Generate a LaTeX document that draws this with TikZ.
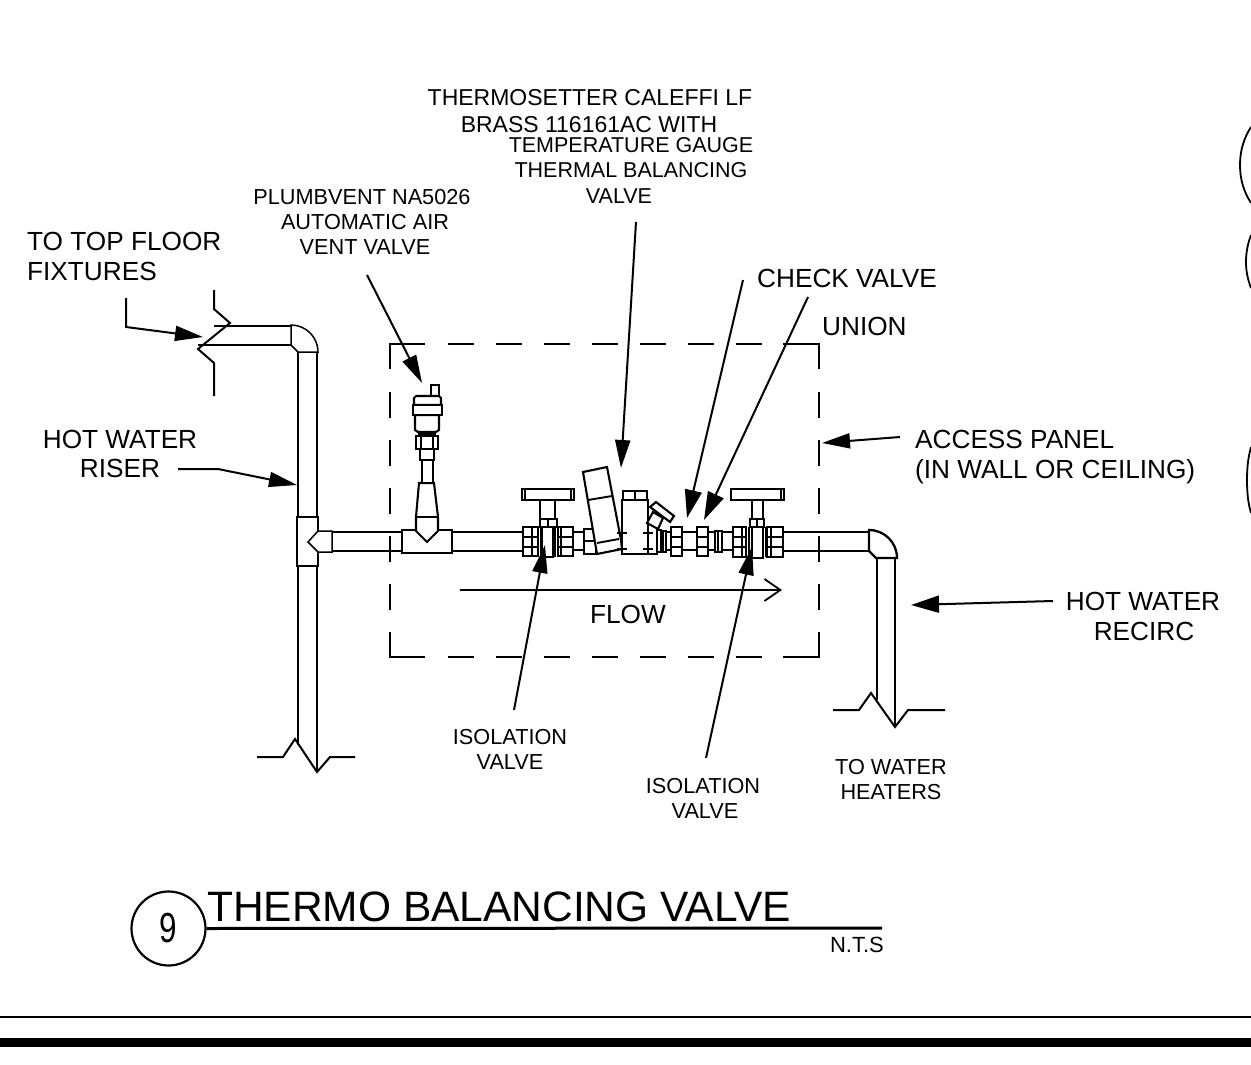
\documentclass[tikz,border=0pt]{standalone}
\usepackage{fontspec}
\setmainfont{Liberation Sans}
\usetikzlibrary{arrows.meta}
\tikzset{
  big/.style={font=\fontsize{26.2}{26.2}\selectfont,inner sep=0pt,anchor=base},
  midA/.style={font=\fontsize{23}{23}\selectfont,inner sep=0pt,anchor=base},
  mid/.style={font=\fontsize{21.5}{21.5}\selectfont,inner sep=0pt,anchor=base},
  small/.style={font=\fontsize{21.7}{21.7}\selectfont,inner sep=0pt,anchor=base},
  leader/.style={line width=2pt,-{Triangle[length=28pt,width=15pt]}},
  wideleader/.style={line width=2pt,-{Triangle[length=28pt,width=17pt]}},
  pipe/.style={line width=2.3pt},
  thinpipe/.style={line width=1.5pt},
  part/.style={line width=2.1pt,fill=white,line join=miter},
  brk/.style={line width=2pt},
  panel/.style={line width=2.1pt}
}
\begin{document}
\begin{tikzpicture}[x=1pt,y=-1pt]
\useasboundingbox (0,0) rectangle (1251,1065);
\fill[white] (0,0) rectangle (1251,1065);

% right edge circles
\draw[line width=1.8pt] (1251,127) .. controls (1244,138) and (1240,150) .. (1240,165) .. controls (1240,180) and (1244,192) .. (1251,203);
\draw[line width=1.8pt] (1251,235) .. controls (1248,243) and (1246,252) .. (1246,262) .. controls (1246,272) and (1248,280) .. (1251,288);
\draw[line width=1.8pt] (1251,447) .. controls (1248,458) and (1247,468) .. (1247,480) .. controls (1247,492) and (1248,503) .. (1251,513);

% access panel
\draw[panel] (425,344) -- (390,344) -- (390,369);
\draw[panel] (783,344) -- (819,344) -- (819,369);
\draw[panel] (425,657) -- (390,657) -- (390,632);
\draw[panel] (783,657) -- (819,657) -- (819,632);
\draw[panel,dash pattern=on 26pt off 22pt] (448,344) -- (762,344);
\draw[panel,dash pattern=on 26pt off 22pt] (448,657) -- (762,657);
\draw[panel,dash pattern=on 26pt off 22pt] (390,392) -- (390,610);
\draw[panel,dash pattern=on 26pt off 22pt] (819,392) -- (819,610);

% riser
\draw[thinpipe] (298,352) -- (298,517) (317,352) -- (317,517);
\draw[thinpipe] (298,566) -- (298,745) (317,566) -- (317,772);
\draw[thinpipe] (214,326) -- (291,326) (198,345) -- (291,345);
\draw[thinpipe] (291,325) arc[start angle=-90,end angle=0,radius=27] -- (298,352) -- (291,345) -- cycle;
\draw[brk] (214,290) -- (214,309) -- (230,323) -- (198,349) -- (214,363) -- (214,396);
\draw[brk] (257,757) -- (283,757) -- (295,739) -- (317,772) -- (330,757) -- (355,757);
% tee on riser
\draw[thinpipe] (297,517) rectangle (318,566);
\draw[thinpipe,fill=white] (318,531) -- (332,531) -- (332,552) -- (318,552) -- (308,542) -- cycle;

% horizontal line
\draw[pipe] (332,532) -- (402,532) (332,551) -- (402,551);
\draw[pipe] (452,532) -- (523,532) (452,551) -- (523,551);
\draw[pipe] (573,532) -- (584,532) (573,550) -- (584,550);
\draw[pipe] (657,532) -- (733,532) (657,550) -- (733,550);
\draw[pipe] (783,532) -- (869,532) (783,551) -- (869,551);

% right elbow and drop
\draw[pipe] (869,530) arc[start angle=-90,end angle=0,radius=28] -- (876,558) -- (869,551) -- cycle;
\draw[pipe] (877,558) -- (877,700) (895,558) -- (895,727);
\draw[brk] (833,710) -- (859,710) -- (871,693) -- (895,727) -- (908,710) -- (945,710);

% air vent
\draw[part] (402,530) rectangle (452,553);
\draw[part] (419,483) -- (434,483) -- (438,517) -- (438,531) -- (427,542) -- (416,531) -- (416,517) -- cycle;
\draw[part] (416,517) -- (438,517);
\draw[part] (422,460) rectangle (433,483);
\draw[part] (420,449) rectangle (434,460);
\draw[part] (416,436) rectangle (438,449);
\draw[part] (421,436) rectangle (433,449);
\draw[part] (431,385) rectangle (439,396);
\draw[part] (415,415) -- (415,430) -- (418,432) -- (436,432) -- (439,430) -- (439,415) -- cycle;
\draw[part] (414,405) -- (414,398) -- (416,396) -- (439,396) -- (441,398) -- (441,405) -- cycle;
\draw[part] (413,405) rectangle (442,415);
\draw[line width=1.4pt] (418,434) -- (436,434);

% isolation valve 1
\draw[part] (522,489) rectangle (574,500);
\draw[line width=1.4pt] (525,489) -- (525,500) (571,489) -- (571,500);
\draw[part] (540,500) rectangle (555,520);
\draw[part] (540,519) rectangle (548,527) (548,519) rectangle (557,527);
\draw[part] (523,527) rectangle (538,556);
\draw[line width=1.6pt] (523,537) -- (538,537) (523,547) -- (538,547) (532,527) -- (532,556);
\draw[part] (542,527) rectangle (553,557);
\draw[line width=2.4pt] (541,527) -- (541,557) (555,527) -- (555,557);
\draw[part] (558,527) rectangle (573,556);
\draw[line width=1.6pt] (558,537) -- (573,537) (558,547) -- (573,547) (561,527) -- (561,556);

% small nut, thermometer
\draw[part] (584,529) rectangle (596,554);
\draw[line width=1.6pt] (584,541) -- (596,541);
\draw[part] (583,472) -- (607,467) -- (621,540) -- (622,549) -- (597,554) -- cycle;
\draw[line width=1.9pt] (588,500) -- (612,496) (597,543) -- (619,539);

% balancing valve body
\draw[part] (622,500) rectangle (648,554);
\draw[part] (623,491) rectangle (647,500);
\draw[line width=1.9pt] (635,491) -- (635,500);
\draw[line width=1.9pt] (617,533) -- (627,533) (617,549) -- (627,549) (643,533) -- (653,533) (643,549) -- (653,549);
\draw[line width=1.9pt] (648,554) -- (657,554) -- (657,532);
% strainer
\draw[part] (647,523) -- (653,512) -- (663,518) -- (658,529) -- cycle;
\draw[part] (656,502) -- (674,516) -- (670,522) -- (650,507) -- cycle;
% right of body
\draw[part] (657,530) rectangle (661,552);
\draw[part] (663,531) rectangle (666,552);
\draw[part] (671,527) rectangle (682,556);
\draw[line width=1.6pt] (671,537) -- (682,537) (671,547) -- (682,547);
\draw[part] (697,527) rectangle (708,556);
\draw[line width=1.6pt] (697,537) -- (708,537) (697,547) -- (708,547);
\draw[part] (715,531) rectangle (722,552);
\draw[line width=1.4pt] (718,531) -- (718,552);

% isolation valve 2
\draw[part] (731,489) rectangle (784,500);
\draw[line width=1.4pt] (781,489) -- (781,500);
\draw[part] (752,500) rectangle (763,520);
\draw[part] (750,519) rectangle (757,527) (757,519) rectangle (764,527);
\draw[part] (733,527) rectangle (746,557);
\draw[line width=1.6pt] (733,537) -- (746,537) (733,547) -- (746,547) (742,527) -- (742,557);
\draw[part] (752,527) rectangle (763,558);
\draw[line width=2.4pt] (749,527) -- (749,557) (766,527) -- (766,557);
\draw[part] (767,527) rectangle (783,557);
\draw[line width=1.6pt] (767,537) -- (783,537) (767,547) -- (783,547) (771,527) -- (771,557);

% flow arrow
\coordinate (flowa) at (460,590);
\coordinate (flowb) at (782,590);
\draw[line width=1.8pt,-{Straight Barb[length=16pt,width=22pt,line width=1.8pt]}] (flowa) -- (flowb);
\node[big] (flow) at (628,623) {FLOW};

% labels
\node[midA] (t1) at (590,106) {THERMOSETTER CALEFFI LF};
\node[midA] (t2) at (589,132) {BRASS 116161AC WITH};
\node[mid] (t3) at (631,152) {TEMPERATURE GAUGE};
\node[mid] (t4) at (631,177) {THERMAL BALANCING};
\node[mid] (t5) at (619,203) {VALVE};
\node[small] (p1) at (362,204) {PLUMBVENT NA5026};
\node[small] (p2) at (365,229) {AUTOMATIC AIR};
\node[small] (p3) at (365,254) {VENT VALVE};
\node[big,anchor=base west] (f1) at (27,250) {TO TOP FLOOR};
\node[big,anchor=base west] (f2) at (27,280) {FIXTURES};
\node[big] (r1) at (120,448) {HOT WATER};
\node[big] (r2) at (120,477) {RISER};
\node[big,anchor=base west] (cv) at (757,287) {CHECK VALVE};
\node[big,anchor=base west] (un) at (822,335) {UNION};
\node[big,anchor=base west] (a1) at (915,448) {ACCESS PANEL};
\node[big,anchor=base west] (a2) at (915,478) {(IN WALL OR CEILING)};
\node[big] (h1) at (1143,610) {HOT WATER};
\node[big] (h2) at (1144,640) {RECIRC};
\node[small] (i1) at (510,744) {ISOLATION};
\node[small] (i2) at (510,769) {VALVE};
\node[small] (j1) at (703,793) {ISOLATION};
\node[small] (j2) at (705,818) {VALVE};
\node[small] (w1) at (891,774) {TO WATER};
\node[small] (w2) at (891,799) {HEATERS};

% leaders
\coordinate (la1) at (126,298); \coordinate (la2) at (126,327); \coordinate (la3) at (203,337);
\draw[leader] (la1) -- (la2) -- (la3);
\coordinate (lb1) at (178,469); \coordinate (lb2) at (218,469); \coordinate (lb3) at (297,485);
\draw[leader] (lb1) -- (lb2) -- (lb3);
\coordinate (lc1) at (367,275); \coordinate (lc2) at (422,383);
\draw[leader] (lc1) -- (lc2);
\coordinate (ld1) at (636,222); \coordinate (ld2) at (621,468);
\draw[leader] (ld1) -- (ld2);
\coordinate (le1) at (743,280); \coordinate (le2) at (687,518);
\draw[wideleader] (le1) -- (le2);
\coordinate (lf1) at (808,297); \coordinate (lf2) at (704,520);
\draw[wideleader] (lf1) -- (lf2);
\coordinate (lg1) at (900,437); \coordinate (lg2) at (822,443);
\draw[leader] (lg1) -- (lg2);
\coordinate (lh1) at (1053,601); \coordinate (lh2) at (911,605);
\draw[wideleader] (lh1) -- (lh2);
\coordinate (li1) at (514,710); \coordinate (li2) at (545,545);
\draw[leader] (li1) -- (li2);
\coordinate (lj1) at (706,758); \coordinate (lj2) at (752,547);
\draw[leader] (lj1) -- (lj2);

% title
\node[draw,circle,line width=2.2pt,minimum size=74pt,inner sep=0pt] (num) at (168.5,928.5) {\fontsize{42}{42}\selectfont\scalebox{0.75}[1]{9}};
\node[font=\fontsize{42.5}{42.5}\selectfont,inner sep=0pt,anchor=base west] (title) at (207,921) {THERMO BALANCING VALVE};
\coordinate (ue) at (882,928);
\draw[line width=3pt] (num.east) -- (ue);
\node[font=\fontsize{22}{22}\selectfont,inner sep=0pt,anchor=base east] (nts) at (884,952) {N.T.S};
% bottom rules
\draw[line width=1.8pt] (0,1017) -- (1251,1017);
\fill (0,1038) rectangle (1251,1047);
\end{tikzpicture}
\end{document}
